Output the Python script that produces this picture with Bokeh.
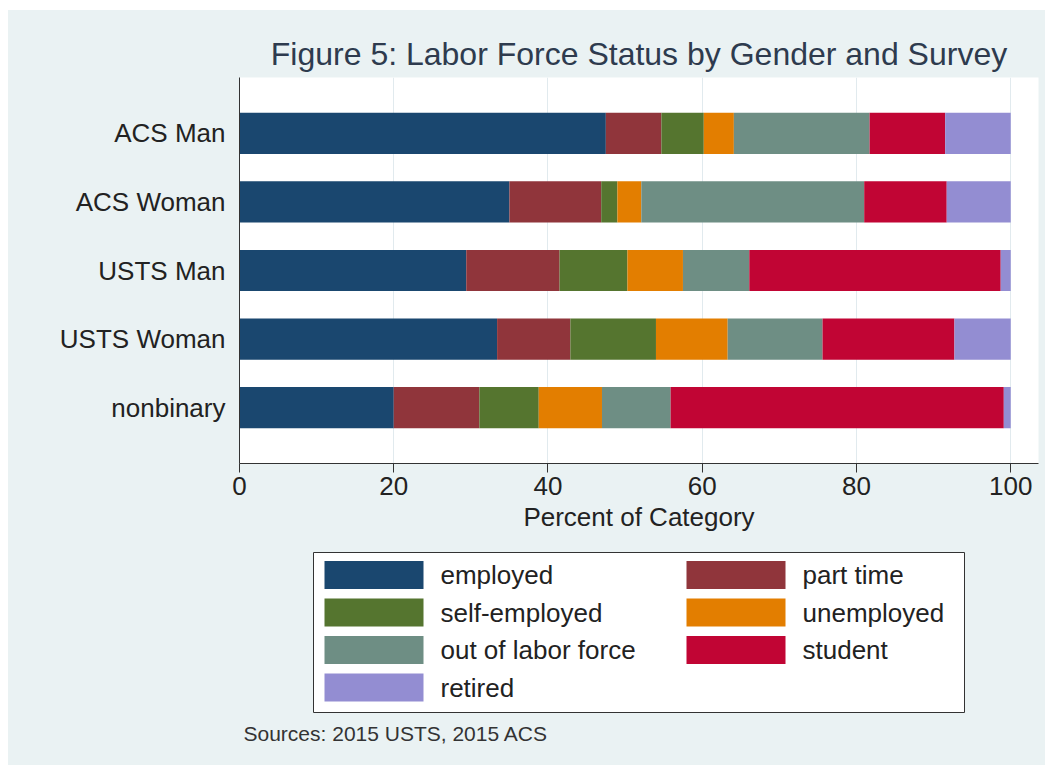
from bokeh.plotting import figure
from bokeh.models import ColumnDataSource, FactorRange, Range1d, FixedTicker
from bokeh.layouts import column
from bokeh.embed import file_html
from bokeh.resources import INLINE
from bokeh.core.properties import value

# ---------------- data ----------------
categories = ["ACS Man", "ACS Woman", "USTS Man", "USTS Woman", "nonbinary"]
statuses = ["employed", "part time", "self-employed", "unemployed",
            "out of labor force", "student", "retired"]
employed = [47.5, 35.0, 29.4, 33.4, 20.0]
part_time = [7.2, 11.9, 12.1, 9.5, 11.1]
self_employed = [5.5, 2.1, 8.8, 11.1, 7.7]
unemployed = [3.9, 3.1, 7.2, 9.3, 8.2]
out_of_labor_force = [17.6, 28.9, 8.6, 12.3, 8.9]
student = [9.8, 10.7, 32.6, 17.1, 43.2]
retired = [8.5, 8.3, 1.3, 7.3, 0.9]
x_ticks = [0, 20, 40, 60, 80, 100]
title_text = "Figure 5: Labor Force Status by Gender and Survey"
x_label = "Percent of Category"
source_note = "Sources: 2015 USTS, 2015 ACS"

colors = ["#1A476F", "#90353B", "#55752F", "#E37E00",
          "#6E8E84", "#C10534", "#938DD2"]

BG = "#EAF2F3"
FONT = "Liberation Sans"
TXT = "#222222"

series = [employed, part_time, self_employed, unemployed,
          out_of_labor_force, student, retired]
data = {"cat": categories}
for name, vals in zip(statuses, series):
    data[name] = vals
src = ColumnDataSource(data)

FRAME_L, FRAME_W, FRAME_R = 231, 799, 7

# ---------------- main chart ----------------
p1 = figure(
    y_range=FactorRange(factors=categories[::-1], range_padding=0.315,
                        range_padding_units="absolute"),
    x_range=Range1d(0, 103.6),
    frame_width=FRAME_W, frame_height=386,
    min_border_left=FRAME_L, min_border_top=67, min_border_right=FRAME_R,
    min_border_bottom=82,
    output_backend="svg", toolbar_location=None,
)
p1.background_fill_color = "white"
p1.border_fill_color = BG
p1.outline_line_color = None

p1.hbar_stack(statuses, y="cat", height=0.6, color=colors, source=src,
              line_color=None)

p1.title.text = title_text
p1.title.align = "center"
p1.title.text_font = FONT
p1.title.text_font_size = "32px"
p1.title.text_font_style = "normal"
p1.title.text_color = "#2E3B4E"
p1.title.standoff = 12

ax = p1.xaxis[0]
ax.ticker = FixedTicker(ticks=x_ticks)
ax.axis_label = x_label
ax.axis_label_text_font = FONT
ax.axis_label_text_font_size = "26px"
ax.axis_label_text_font_style = "normal"
ax.axis_label_text_color = TXT
ax.axis_label_standoff = 4
ax.major_label_text_font = FONT
ax.major_label_text_font_size = "26px"
ax.major_label_text_color = TXT
ax.major_label_standoff = 4
ax.major_tick_out = 9
ax.major_tick_in = 0
ax.minor_tick_out = 0
ax.minor_tick_in = 0
ax.axis_line_color = "#333333"
ax.major_tick_line_color = "#333333"

ay = p1.yaxis[0]
ay.major_label_text_font = FONT
ay.major_label_text_font_size = "26px"
ay.major_label_text_color = TXT
ay.major_label_standoff = 14
ay.major_tick_out = 0
ay.major_tick_in = 0
ay.axis_line_color = "#333333"

p1.xgrid.ticker = FixedTicker(ticks=x_ticks)
p1.xgrid.grid_line_color = "#E1EAEE"
p1.ygrid.visible = False

# ---------------- legend + note panel ----------------
# x coordinates of this panel are canvas pixels; its frame is aligned with
# the main chart's frame, so the range covers that same pixel span.
H2 = 220
p2 = figure(frame_width=FRAME_W, frame_height=H2,
            min_border_left=FRAME_L, min_border_right=FRAME_R,
            min_border_top=0, min_border_bottom=0,
            x_range=Range1d(FRAME_L, FRAME_L + FRAME_W),
            y_range=Range1d(H2, 0), x_axis_location=None,
            y_axis_location=None,
            output_backend="svg", toolbar_location=None)
p2.background_fill_color = None
p2.border_fill_color = BG
p2.outline_line_color = None
p2.grid.visible = False

# legend frame
box_l, box_r, box_t, box_b = 305, 956, 7, 167
p2.quad(left=[box_l], right=[box_r], top=[box_t], bottom=[box_b],
        fill_color="white", line_color="#333333", line_width=1)

sw_w, sw_h = 99, 28
col_x = [316, 678]
row_y0, row_pitch = 29.5, 37.5
lefts, rights, tops, bottoms, tx, ty = [], [], [], [], [], []
for i, name in enumerate(statuses):
    r, c = divmod(i, 2)
    cy = row_y0 + r * row_pitch
    lefts.append(col_x[c])
    rights.append(col_x[c] + sw_w)
    tops.append(cy - sw_h / 2)
    bottoms.append(cy + sw_h / 2)
    tx.append(col_x[c] + sw_w + 17)
    ty.append(cy)
p2.quad(left=lefts, right=rights, top=tops, bottom=bottoms,
        fill_color=colors, line_color=None)
p2.text(x=tx, y=ty, text=statuses, text_font=value(FONT),
        text_font_size="26px", text_baseline="middle", text_align="left",
        text_color=TXT)

p2.text(x=[235], y=[188], text=[source_note], text_font=value(FONT),
        text_font_size="21px", text_baseline="middle", text_align="left",
        text_color="#333333")

layout = column(p1, p2, spacing=0, margin=(10, 0, 0, 8),
                styles={"background-color": BG})
open("out.html", "w").write(file_html(layout, INLINE))
